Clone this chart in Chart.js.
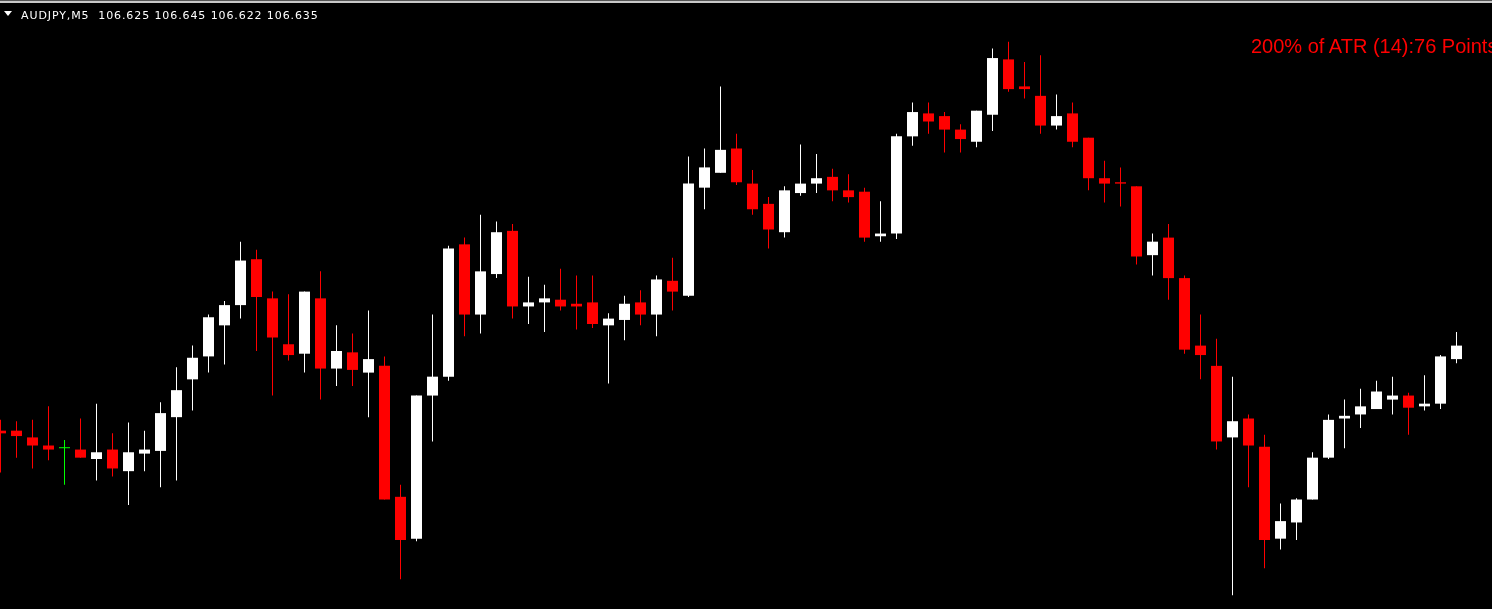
<!DOCTYPE html>
<html>
<head>
<meta charset="utf-8">
<title>AUDJPY,M5</title>
<script src="https://cdn.jsdelivr.net/npm/chart.js@4.4.1/dist/chart.umd.min.js"></script>
<style>
  html, body { margin: 0; padding: 0; background: #000; overflow: hidden; }
  #wrap { position: relative; width: 1492px; height: 609px; background: #000; }
  #myCanvas { position: absolute; left: 0; top: 0; }
  .line0 { position: absolute; left: 0; top: 0; width: 1492px; height: 1px; background: #555; }
  .line1 { position: absolute; left: 0; top: 1px; width: 1492px; height: 2px; background: #c8c8c8; }
  #tri { position: absolute; left: 4px; top: 11px; width: 0; height: 0;
         border-left: 4px solid transparent; border-right: 4px solid transparent; border-top: 5px solid #fff; }
  #head { position: absolute; left: 21px; top: 9px; color: #fff; white-space: pre;
          font: 11px/13px "DejaVu Sans", sans-serif; letter-spacing: 0.9px; }
  #atr { position: absolute; left: 1251px; top: 35px; color: #ff0000; white-space: pre;
         font: 20px/23px "Liberation Sans", Arial, sans-serif; }
</style>
</head>
<body>
<div id="wrap">
  <canvas id="myCanvas" width="1492" height="609"></canvas>
  <div class="line0"></div>
  <div class="line1"></div>
  <div id="tri"></div>
  <div id="head">AUDJPY,M5  106.625 106.645 106.622 106.635</div>
  <div id="atr">200% of ATR (14):76 Points</div>
</div>
<script>
// AUDJPY M5 candles, oldest first
var opens = [106.572,106.572,106.567,106.561,106.559,106.558,106.551,106.558,106.542,106.555,
  106.557,106.582,106.610,106.627,106.650,106.665,106.699,106.670,106.636,106.629,
  106.670,106.618,106.630,106.615,106.620,106.523,106.492,106.598,106.612,106.710,
  106.658,106.688,106.720,106.664,106.667,106.669,106.666,106.667,106.650,106.654,
  106.667,106.658,106.683,106.672,106.752,106.763,106.781,106.755,106.740,106.719,
  106.748,106.755,106.760,106.750,106.749,106.716,106.718,106.790,106.807,106.805,
  106.795,106.786,106.806,106.847,106.827,106.820,106.798,106.807,106.789,106.759,
  106.756,106.753,106.702,106.715,106.685,106.635,106.620,106.567,106.581,106.560,
  106.492,106.504,106.521,106.552,106.581,106.584,106.588,106.595,106.598,106.590,
  106.592,106.625];
var highs = [106.580,106.579,106.580,106.590,106.565,106.581,106.592,106.570,106.578,106.572,
  106.593,106.619,106.635,106.658,106.668,106.712,106.706,106.675,106.673,106.675,
  106.690,106.650,106.644,106.661,106.627,106.532,106.598,106.658,106.709,106.715,
  106.732,106.727,106.725,106.686,106.680,106.692,106.687,106.687,106.659,106.672,
  106.676,106.687,106.700,106.775,106.781,106.827,106.792,106.765,106.745,106.753,
  106.784,106.777,106.766,106.762,106.752,106.742,106.792,106.815,106.815,106.808,
  106.799,106.809,106.855,106.860,106.845,106.850,106.821,106.815,106.789,106.772,
  106.767,106.753,106.718,106.725,106.687,106.658,106.640,106.612,106.584,106.569,
  106.518,106.522,106.556,106.584,106.595,106.603,106.609,106.612,106.600,106.613,
  106.628,106.645];
var lows = [106.541,106.552,106.544,106.550,106.532,106.552,106.535,106.538,106.517,106.542,
  106.530,106.535,106.587,106.615,106.621,106.655,106.631,106.598,106.624,106.615,
  106.595,106.605,106.605,106.582,106.521,106.462,106.490,106.564,106.609,106.642,
  106.644,106.685,106.655,106.651,106.645,106.661,106.647,106.648,106.607,106.639,
  106.650,106.642,106.661,106.671,106.736,106.763,106.754,106.732,106.707,106.715,
  106.746,106.748,106.742,106.741,106.712,106.712,106.714,106.783,106.792,106.778,
  106.778,106.782,106.794,106.823,106.818,106.792,106.795,106.782,106.750,106.741,
  106.738,106.695,106.687,106.669,106.629,106.610,106.558,106.450,106.530,106.470,
  106.484,106.491,106.521,106.551,106.559,106.574,106.588,106.584,106.569,106.587,
  106.588,106.622];
var closes = [106.570,106.568,106.561,106.558,106.559,106.552,106.556,106.544,106.556,106.558,
  106.585,106.602,106.626,106.656,106.665,106.698,106.671,106.641,106.628,106.675,
  106.618,106.631,106.617,106.625,106.521,106.491,106.598,106.612,106.707,106.658,
  106.690,106.719,106.664,106.667,106.670,106.664,106.664,106.651,106.655,106.666,
  106.658,106.684,106.675,106.755,106.767,106.780,106.756,106.736,106.721,106.750,
  106.755,106.759,106.750,106.745,106.715,106.718,106.790,106.808,106.801,106.795,
  106.788,106.809,106.848,106.825,106.825,106.798,106.805,106.786,106.759,106.755,
  106.755,106.701,106.712,106.685,106.632,106.628,106.564,106.579,106.561,106.491,
  106.505,106.521,106.552,106.580,106.583,106.590,106.601,106.598,106.589,106.592,
  106.627,106.635];

var bullColor = '#ffffff';
var bearColor = '#ff0000';
var dojiColor = '#00ff00';

function candleColor(i) {
    if (closes[i] > opens[i]) return bullColor;
    if (closes[i] < opens[i]) return bearColor;
    return dojiColor;
}

var bodies = [];
var wicks = [];
var colors = [];
for (var i = 0; i < closes.length; i++) {
    bodies.push({x: i, y: [opens[i], closes[i]]});
    wicks.push({x: i, y: [lows[i], highs[i]]});
    colors.push(candleColor(i));
}

var ctx = document.getElementById('myCanvas').getContext('2d');
var chart = new Chart(ctx, {
    type: 'bar',
    data: {
        datasets: [{
            label: 'body',
            data: bodies,
            backgroundColor: colors,
            barThickness: 11,
            minBarLength: 1,
            inflateAmount: 0,
            grouped: false,
            order: 0
        }, {
            label: 'wick',
            data: wicks,
            backgroundColor: colors,
            barThickness: 1,
            inflateAmount: 0,
            grouped: false,
            order: 1
        }]
    },
    options: {
        responsive: false,
        animation: false,
        events: [],
        layout: { padding: 0 },
        plugins: { legend: { display: false }, tooltip: { enabled: false } },
        scales: {
            // one candle every 16 px, first candle centred on the left edge
            x: { type: 'linear', display: false, offset: false, min: -0.03125, max: 93.21875 },
            y: { display: false, min: 106.4399, max: 106.891 }
        }
    }
});
</script>
</body>
</html>
